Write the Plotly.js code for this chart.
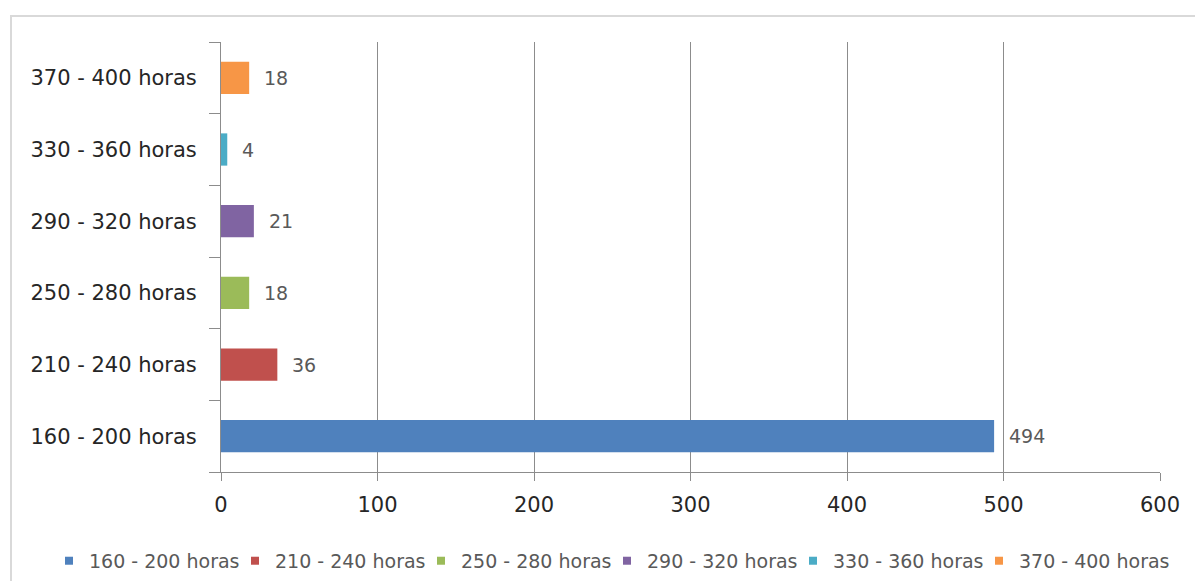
<!DOCTYPE html>
<html>
<head>
<meta charset="utf-8">
<script src="https://cdn.plot.ly/plotly-3.0.1.min.js"></script>
<style>
  html, body { margin: 0; padding: 0; background: #ffffff; }
  #frame { position: absolute; left: 10px; top: 15px; width: 1200px; height: 600px;
           border-left: 2px solid #d9d9d9; border-top: 2px solid #d9d9d9; }
  #chart { position: absolute; left: 0; top: 0; width: 1195px; height: 581px; }
</style>
</head>
<body>
<div id="frame"></div>
<div id="chart"></div>
<script>
// Horas de formación por rango: one series per range
const categories = ['160 - 200 horas', '210 - 240 horas', '250 - 280 horas',
                    '290 - 320 horas', '330 - 360 horas', '370 - 400 horas'];
const values = [494, 36, 18, 21, 4, 18];
const colors = ['#4f81bd', '#c0504d', '#9bbb59', '#8064a2', '#4bacc6', '#f79646'];
const xTicks = [0, 100, 200, 300, 400, 500, 600];

const font = '"DejaVu Sans", Verdana, sans-serif';

const traces = [];
categories.forEach((cat, i) => {
  traces.push({
    type: 'bar',
    orientation: 'h',
    name: cat,
    x: [values[i]],
    y: [cat],
    width: 0.45,
    marker: { color: colors[i], line: { width: 0 } },
    showlegend: false,
    hoverinfo: 'x+y'
  });
});
// legend entries with small square keys; the last one gets room for its full label
categories.forEach((cat, i) => {
  const entry = {
    type: 'scatter',
    mode: 'markers',
    name: cat,
    x: [null],
    y: [cat],
    marker: { symbol: 'square', size: 8, color: colors[i] },
    showlegend: true,
    hoverinfo: 'skip'
  };
  if (i === categories.length - 1) entry.legendwidth = 160;
  traces.push(entry);
});

const annotations = categories.map((cat, i) => ({
  x: values[i],
  y: cat,
  xref: 'x',
  yref: 'y',
  text: String(values[i]),
  showarrow: false,
  xanchor: 'left',
  xshift: 13,
  font: { family: font, size: 19, color: '#595959' }
}));

const layout = {
  width: 1195,
  height: 581,
  margin: { l: 221, r: 35, t: 42, b: 109, autoexpand: false },
  paper_bgcolor: 'rgba(0,0,0,0)',
  plot_bgcolor: 'rgba(0,0,0,0)',
  barmode: 'overlay',
  font: { family: font, color: '#262626' },
  xaxis: {
    range: [0, 600],
    tickvals: xTicks,
    ticktext: xTicks.map(String),
    showgrid: true,
    gridcolor: '#8c8c8c',
    gridwidth: 1,
    zeroline: false,
    showline: true,
    linecolor: '#8c8c8c',
    linewidth: 1,
    ticks: 'outside',
    ticklen: 8,
    tickcolor: '#8c8c8c',
    ticklabelstandoff: 6,
    tickfont: { family: font, size: 21, color: '#262626' },
    fixedrange: true
  },
  yaxis: {
    type: 'category',
    categoryorder: 'array',
    categoryarray: categories,
    range: [-0.5, 5.5],
    showgrid: false,
    zeroline: false,
    showline: true,
    linecolor: '#8c8c8c',
    linewidth: 1,
    ticks: 'outside',
    tickson: 'boundaries',
    ticklen: 11,
    tickcolor: '#8c8c8c',
    ticklabelstandoff: 19,
    tickfont: { family: font, size: 21, color: '#262626' },
    fixedrange: true
  },
  legend: {
    orientation: 'h',
    entrywidth: 141,
    x: -0.1832,
    xanchor: 'left',
    y: -0.2067,
    yanchor: 'middle',
    font: { family: font, size: 19, color: '#595959' },
    itemclick: false,
    itemdoubleclick: false
  },
  annotations: annotations,
  showlegend: true
};

Plotly.newPlot('chart', traces, layout, { displayModeBar: false, staticPlot: true });
</script>
</body>
</html>
